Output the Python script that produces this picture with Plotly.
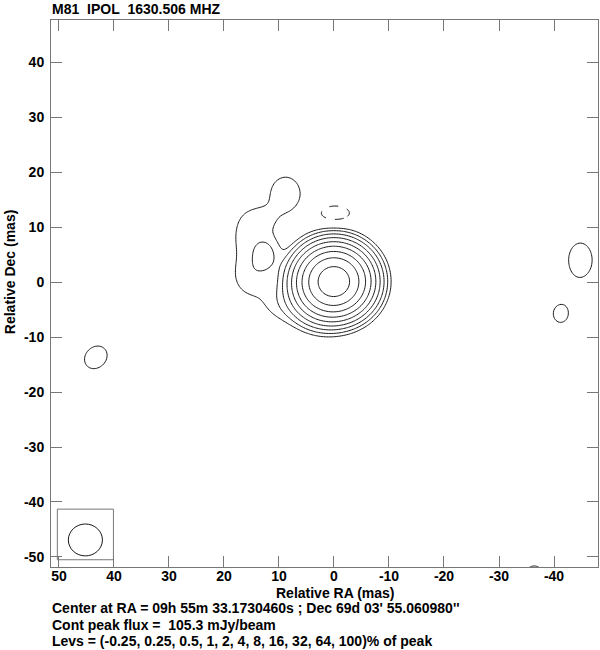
import numpy as np
import plotly.graph_objects as go

# ---------------- data ----------------
TITLE = "M81\u00a0 IPOL\u00a0 1630.506 MHZ"
PEAK_MJY = 105.3                      # Cont peak flux, mJy/beam
LEVELS_PCT = [-0.25, 0.25, 0.5, 1, 2, 4, 8, 16, 32, 64, 100]

# Gaussian model components of the map (relative RA, relative Dec in mas,
# amplitude in % of peak, sigma along RA / Dec in mas, rotation in deg)
COMP_RA    = [0.0, 3.0, 10.0, 15.5, 16.0, 12.2, 8.8, 13.0, -0.2, -44.8, -41.2, 43.3, -36.4]
COMP_DEC   = [0.1, -3.0, -4.0, 1.0, 8.5, 5.0, 16.0, 11.5, 12.5, 4.0, -5.8, -13.7, -53.2]
COMP_AMP   = [100.0, 2.0, 0.3, 0.35, 0.32, 0.54, 0.42, 0.25, -0.42, 0.36, 0.29, 0.33, 0.30]
COMP_SRA   = [3.0, 2.8, 3.0, 2.5, 2.3, 1.8, 2.6, 2.2, 2.6, 2.5, 2.4, 3.0, 2.6]
COMP_SDEC  = [2.85, 2.8, 2.5, 3.0, 3.5, 2.55, 3.0, 1.8, 1.3, 3.6, 2.8, 2.5, 2.6]
COMP_ROT   = [0, 0, 30, 0, 0, 0, 0, 0, 0, 0, 0, 135, 0]

# restoring beam (mas) and its box
BEAM_RA, BEAM_DEC = 45.2, -46.9
BEAM_MAJ, BEAM_MIN = 6.2, 5.8
BEAM_BOX_RA = [50.3, 40.1]
BEAM_BOX_DEC = [-50.5, -41.3]

X_TICKS = [50, 40, 30, 20, 10, 0, -10, -20, -30, -40]
Y_TICKS = [40, 30, 20, 10, 0, -10, -20, -30, -40, -50]
X_RANGE = [51.45, -48.0]
Y_RANGE = [-51.82, 47.64]

FOOTER = [
    "Center at RA = 09h 55m 33.1730460s ; Dec 69d 03' 55.060980''",
    "Cont peak flux =\u00a0 105.3 mJy/beam",
    "Levs = (-0.25, 0.25, 0.5, 1, 2, 4, 8, 16, 32, 64, 100)% of peak",
]

# ---------------- build map ----------------
xg = np.arange(-50.0, 53.0, 0.3)
yg = np.arange(-55.0, 49.0, 0.3)
X, Y = np.meshgrid(xg, yg)
Z = np.zeros_like(X)
for cx, cy, a, sx, sy, rot in zip(COMP_RA, COMP_DEC, COMP_AMP, COMP_SRA, COMP_SDEC, COMP_ROT):
    t = np.deg2rad(rot)
    dx, dy = X - cx, Y - cy
    u = dx * np.cos(t) + dy * np.sin(t)
    v = -dx * np.sin(t) + dy * np.cos(t)
    Z += a * np.exp(-0.5 * ((u / sx) ** 2 + (v / sy) ** 2))
Z = Z * PEAK_MJY / 100.0          # mJy/beam

pos_levels = [l for l in LEVELS_PCT if 0 < l < 100]
neg_levels = [l for l in LEVELS_PCT if l < 0]
# positive levels double each step -> uniform in log2
Zlog = np.log2(np.maximum(Z / PEAK_MJY * 100.0, 1e-4))

fig = go.Figure()
fig.add_trace(go.Contour(
    x=xg, y=yg, z=Zlog,
    contours=dict(start=np.log2(pos_levels[0]), end=np.log2(pos_levels[-1]), size=1,
                  coloring="none"),
    line=dict(color="#1a1a1a", width=1, smoothing=1),
    showscale=False, hoverinfo="skip",
))
for lv in neg_levels:
    lvm = lv * PEAK_MJY / 100.0
    fig.add_trace(go.Contour(
        x=xg, y=yg, z=Z,
        contours=dict(start=lvm, end=lvm, size=1, coloring="none"),
        line=dict(color="#1a1a1a", width=1, dash="dash", smoothing=1),
        showscale=False, hoverinfo="skip",
    ))

# beam box and beam ellipse
fig.add_shape(type="rect", xref="x", yref="y",
              x0=BEAM_BOX_RA[0], x1=BEAM_BOX_RA[1], y0=BEAM_BOX_DEC[0], y1=BEAM_BOX_DEC[1],
              line=dict(color="#777777", width=1))
fig.add_shape(type="circle", xref="x", yref="y",
              x0=BEAM_RA + BEAM_MAJ / 2, x1=BEAM_RA - BEAM_MAJ / 2,
              y0=BEAM_DEC - BEAM_MIN / 2, y1=BEAM_DEC + BEAM_MIN / 2,
              line=dict(color="#1a1a1a", width=1))

font = dict(family="Liberation Sans, Arial, Helvetica, sans-serif", size=14, color="black", weight="bold")
axis_common = dict(showgrid=False, zeroline=False, showline=True, linecolor="#777777", linewidth=1,
                   mirror="ticks", ticks="inside", ticklen=11, tickcolor="#777777", tickwidth=1,
                   tickfont=font, automargin=False)
fig.update_xaxes(range=X_RANGE, tickvals=X_TICKS, ticktext=[str(v) for v in X_TICKS],
                 ticklabelstandoff=-4, **axis_common)
fig.update_yaxes(range=Y_RANGE, tickvals=Y_TICKS, ticktext=[str(v) for v in Y_TICKS],
                 ticklabelstandoff=3, **axis_common)

annotations = [dict(text=TITLE, xref="paper", yref="paper", x=0.0, y=1.0, xanchor="left",
                    yanchor="bottom", yshift=1, xshift=-1, showarrow=False, font=font),
               dict(text="Relative RA (mas)", xref="paper", yref="paper", x=0.52, y=0.0,
                    xanchor="center", yanchor="middle", yshift=-26, showarrow=False, font=font),
               dict(text="Relative Dec (mas)", xref="paper", yref="paper", x=0.0, y=0.539,
                    xanchor="center", yanchor="middle", xshift=-41, textangle=-90,
                    showarrow=False, font=font)]
for i, line in enumerate(FOOTER):
    annotations.append(dict(text=line, xref="paper", yref="paper", x=0.0, y=0.0, xanchor="left",
                            yanchor="middle", yshift=-41 - 16.5 * i, xshift=-1,
                            showarrow=False, font=font))
fig.update_layout(width=600, height=650, margin=dict(l=51, r=2, t=20, b=83),
                  paper_bgcolor="white", plot_bgcolor="white", showlegend=False,
                  annotations=annotations, font=font)
fig.write_html("out.html", config={"displayModeBar": False},
               post_script="document.body.style.margin='0';")
